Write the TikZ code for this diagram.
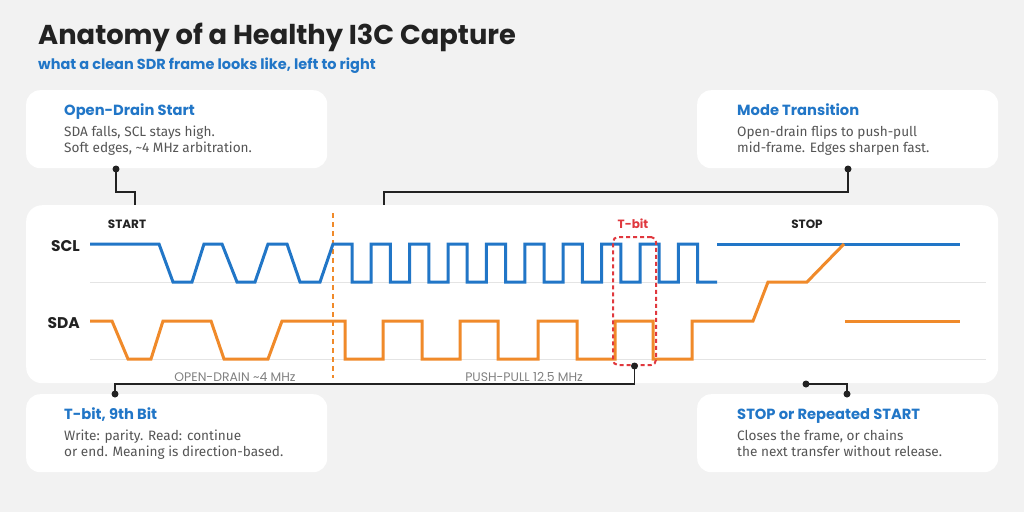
\documentclass[tikz,border=0pt]{standalone}
\usepackage{fontspec}
\setmainfont{Fira Sans}
\newfontfamily\pop{Poppins}
\definecolor{bg}{HTML}{F2F2F2}
\definecolor{myblue}{HTML}{2176C7}
\definecolor{myorange}{HTML}{F08A2A}
\definecolor{myred}{HTML}{E0383E}
\definecolor{dark}{HTML}{222222}
\definecolor{bodygray}{HTML}{555555}
\definecolor{labgray}{HTML}{808080}
\definecolor{basegray}{HTML}{E4E4E4}
\begin{document}
\begin{tikzpicture}[x=1pt,y=-1pt,
  card/.style={fill=white, rounded corners=14pt, draw=none, minimum width=301pt, minimum height=78pt, inner sep=0pt, anchor=north west},
  cardtitle/.style={anchor=base west, inner sep=0pt, font=\pop\bfseries\fontsize{14.7}{16}\selectfont, text=myblue},
  cardbody/.style={anchor=base west, inner sep=0pt, font=\fontsize{13.6}{15}\selectfont, text=bodygray},
  signame/.style={anchor=base east, inner sep=0pt, font=\pop\bfseries\fontsize{15.5}{17}\selectfont, text=dark},
  evlabel/.style={anchor=base, inner sep=0pt, font=\pop\bfseries\fontsize{12}{13}\selectfont, text=dark},
  modelabel/.style={anchor=base, inner sep=0pt, font=\pop\fontsize{12.4}{13}\selectfont, text=labgray},
  sclwave/.style={draw=myblue, line width=3pt, line join=miter},
  sdawave/.style={draw=myorange, line width=3pt, line join=miter},
  conn/.style={draw=dark, line width=1.8pt},
  pin/.style={circle, fill=dark, inner sep=0pt, minimum size=7pt},
]
\useasboundingbox (0,0) rectangle (1024,512);
\fill[bg] (0,0) rectangle (1024,512);

% titles
\node[anchor=base west, inner sep=0pt, font=\pop\bfseries\fontsize{27.3}{30}\selectfont, text=dark] (title) at (38,44) {Anatomy of a Healthy I3C Capture};
\node[anchor=base west, inner sep=0pt, font=\pop\bfseries\fontsize{14.5}{16}\selectfont, text=myblue] (subtitle) at (38,69) {what a clean SDR frame looks like, left to right};

% waveform panel
\node[fill=white, rounded corners=16pt, minimum width=972pt, minimum height=178pt, inner sep=0pt, anchor=north west] (panel) at (26,205) {};

% callout cards
\node[card] (odcard) at (26,90) {};
\node[cardtitle] (odt) at (64,115) {Open-Drain Start};
\node[cardbody] (odb1) at (64,136) {SDA falls, SCL stays high.};
\node[cardbody] (odb2) at (64,152) {Soft edges, {\char"007E}4 MHz arbitration.};

\node[card] (mtcard) at (697,90) {};
\node[cardtitle] (mtt) at (737,115) {Mode Transition};
\node[cardbody] (mtb1) at (737,136) {Open-drain flips to push-pull};
\node[cardbody] (mtb2) at (737,152) {mid-frame. Edges sharpen fast.};

\node[card] (tbcard) at (26,394) {};
\node[cardtitle] (tbt) at (64,419) {T-bit, 9th Bit};
\node[cardbody] (tbb1) at (64,440) {Write: parity. Read: continue};
\node[cardbody] (tbb2) at (64,456) {or end. Meaning is direction-based.};

\node[card] (spcard) at (697,394) {};
\node[cardtitle] (spt) at (737,419) {STOP or Repeated START};
\node[cardbody] (spb1) at (737,440) {Closes the frame, or chains};
\node[cardbody] (spb2) at (737,456) {the next transfer without release.};

% baselines
\draw[basegray, line width=1pt] (90,282) -- (986,282);
\draw[basegray, line width=1pt] (90,359) -- (986,359);

% labels
\node[signame] (scl) at (80,251) {SCL};
\node[signame] (sda) at (80,328) {SDA};
\node[evlabel] (start) at (127,228) {START};
\node[evlabel, text=myred] (tbitlab) at (633,228) {T-bit};
\node[evlabel] (stop) at (807,228) {STOP};
\node[modelabel] (odlab) at (235,381) {OPEN-DRAIN {\char"007E}4 MHz};
\node[modelabel] (pplab) at (524,381) {PUSH-PULL 12.5 MHz};

% mode boundary
\draw[myorange, line width=1.8pt, dash pattern=on 5pt off 4pt] (333,213) -- (333,378);

% SCL
\draw[sclwave] (90,244) -- (159,244) -- (173,282) -- (192,282) -- (204,244) -- (222,244) -- (237,282) -- (255,282) -- (268,244) -- (287,244) -- (300,282) -- (320,282) -- (333,244) -- (352,244)
 -- (352,282) -- (371,282) -- (371,244) -- (390.4,244) -- (390.4,282) -- (409.6,282) -- (409.6,244) -- (428.8,244) -- (428.8,282) -- (448,282) -- (448,244) -- (467.2,244) -- (467.2,282) -- (486.4,282) -- (486.4,244) -- (505.6,244) -- (505.6,282) -- (524.8,282) -- (524.8,244) -- (544,244) -- (544,282) -- (563.2,282) -- (563.2,244) -- (582.4,244) -- (582.4,282) -- (601.6,282) -- (601.6,244) -- (620.8,244) -- (620.8,282) -- (640,282) -- (640,244) -- (659.2,244) -- (659.2,282) -- (678.4,282) -- (678.4,244) -- (697.6,244) -- (697.6,282) -- (717,282);
\draw[sclwave] (717,244) -- (960,244);

% SDA
\draw[sdawave] (90,321) -- (112,321) -- (128,359) -- (151,359) -- (163,321) -- (211,321) -- (224,359) -- (268,359) -- (282,321) -- (345,321) -- (345,359) -- (383,359) -- (383,321) -- (422,321) -- (422,359) -- (460,359) -- (460,321) -- (498,321) -- (498,359) -- (538,359) -- (538,321) -- (577,321) -- (577,359) -- (615,359) -- (615,321) -- (653,321) -- (653,359) -- (692,359) -- (692,321) -- (753,321) -- (768,282) -- (807,282) -- (844,244);
\draw[sdawave] (845,321) -- (960,321);

% T-bit highlight
\node[draw=myred, line width=2pt, dash pattern=on 4pt off 3pt, rounded corners=5pt, minimum width=43pt, minimum height=128pt, inner sep=0pt, anchor=north west] (tbox) at (612,236) {};

% connectors
\node[pin] (p1) at (116,169) {};
\coordinate (e1) at (135,205);
\draw[conn] (p1.center) -- (116,192) -- (e1 |- 0,192) -- (e1);

\node[pin] (p2) at (848,169) {};
\coordinate (e2) at (384,205);
\draw[conn] (p2.center) -- (848,192) -- (e2 |- 0,192) -- (e2);

\node[pin] (p3) at (tbox.south) {};
\node[pin] (p4) at (115,394) {};
\draw[conn] (p3.center) -- (p3 |- 0,384) -- (p4 |- 0,384) -- (p4.center);

\node[pin] (p5) at (806,384) {};
\node[pin] (p6) at (847,394) {};
\draw[conn] (p5.center) -- (p6 |- p5) -- (p6.center);
\end{tikzpicture}
\end{document}
